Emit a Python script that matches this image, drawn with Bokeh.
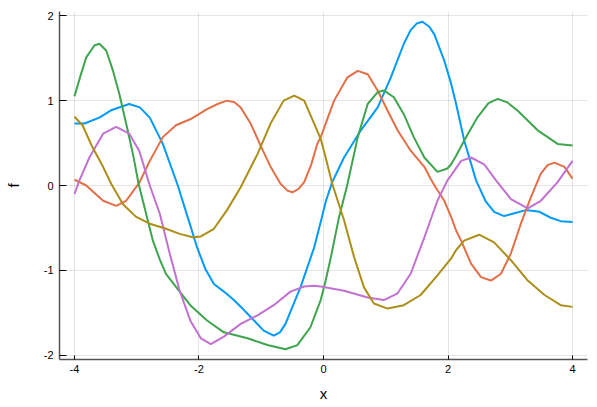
from bokeh.plotting import figure
from bokeh.models import Range1d, FixedTicker
from bokeh.embed import file_html
from bokeh.resources import INLINE

# ---- data ----
x1 = [-4.0, -3.84, -3.6, -3.4, -3.12, -2.95, -2.79, -2.58, -2.34, -2.14, -2.03, -1.9, -1.76, -1.6,
      -1.44, -1.3, -1.17, -0.96, -0.80, -0.70, -0.61, -0.5, -0.37, -0.15, -0.045, 0.04, 0.14, 0.33,
      0.60, 0.87, 1.08, 1.29, 1.40, 1.50, 1.59, 1.70, 1.78, 1.94, 2.05, 2.13, 2.26, 2.45, 2.60,
      2.74, 2.90, 3.05, 3.25, 3.47, 3.65, 3.81, 4.0]
y1 = [0.73, 0.73, 0.80, 0.89, 0.96, 0.92, 0.80, 0.49, 0.0, -0.47, -0.73, -0.98, -1.16, -1.25,
      -1.35, -1.45, -1.55, -1.71, -1.77, -1.73, -1.63, -1.43, -1.20, -0.73, -0.43, -0.18, 0.04, 0.33,
      0.65, 0.92, 1.27, 1.67, 1.83, 1.91, 1.93, 1.87, 1.78, 1.47, 1.20, 0.96, 0.53, 0.06, -0.18,
      -0.31, -0.36, -0.33, -0.29, -0.31, -0.38, -0.42, -0.43]

x2 = [-4.0, -3.81, -3.54, -3.33, -3.17, -2.96, -2.79, -2.58, -2.37, -2.14, -1.87, -1.70, -1.55,
      -1.43, -1.33, -1.17, -1.01, -0.85, -0.69, -0.58, -0.50, -0.40, -0.31, -0.20, -0.10, -0.045,
      0.035, 0.17, 0.38, 0.55, 0.71, 0.87, 1.03, 1.19, 1.40, 1.62, 1.72, 1.80, 1.94, 2.05, 2.13,
      2.21, 2.37, 2.53, 2.69, 2.85, 3.01, 3.17, 3.33, 3.49, 3.60, 3.71, 3.87, 4.0]
y2 = [0.07, 0.0, -0.18, -0.24, -0.18, 0.03, 0.29, 0.57, 0.71, 0.78, 0.90, 0.96, 1.0,
      0.98, 0.92, 0.73, 0.47, 0.22, 0.02, -0.06, -0.08, -0.04, 0.04, 0.24, 0.49, 0.57,
      0.73, 1.0, 1.27, 1.35, 1.31, 1.12, 0.88, 0.65, 0.41, 0.22, 0.08, -0.02, -0.18, -0.37, -0.53,
      -0.65, -0.92, -1.08, -1.12, -1.04, -0.80, -0.45, -0.14, 0.14, 0.24, 0.27, 0.22, 0.08]

x3 = [-4.0, -3.90, -3.81, -3.68, -3.60, -3.49, -3.38, -3.28, -3.17, -3.06, -2.97, -2.85, -2.74,
      -2.63, -2.53, -2.31, -2.14, -1.87, -1.60, -1.22, -0.90, -0.61, -0.42, -0.21, -0.045, 0.035,
      0.12, 0.25, 0.38, 0.55, 0.71, 0.87, 0.97, 1.13, 1.29, 1.45, 1.62, 1.83, 1.99, 2.05, 2.13,
      2.26, 2.47, 2.65, 2.80, 2.95, 3.12, 3.44, 3.76, 4.0]
y3 = [1.05, 1.30, 1.51, 1.65, 1.67, 1.59, 1.35, 1.08, 0.73, 0.37, 0.02, -0.33, -0.65,
      -0.87, -1.04, -1.25, -1.41, -1.59, -1.73, -1.80, -1.88, -1.93, -1.88, -1.67, -1.35, -1.12,
      -0.84, -0.37, 0.0, 0.57, 0.96, 1.10, 1.12, 1.04, 0.84, 0.57, 0.33, 0.16, 0.20, 0.25, 0.35,
      0.53, 0.80, 0.97, 1.02, 0.98, 0.88, 0.65, 0.49, 0.47]

x4 = [-4.0, -3.92, -3.76, -3.54, -3.33, -3.12, -2.96, -2.79, -2.63, -2.47, -2.31, -2.14, -1.97,
      -1.81, -1.60, -1.33, -1.06, -0.80, -0.53, -0.31, -0.15, -0.045, 0.33, 0.71, 0.97, 1.19, 1.40,
      1.62, 1.83, 1.99, 2.05, 2.21, 2.37, 2.58, 2.77, 3.01, 3.28, 3.49, 3.76, 4.0]
y4 = [-0.10, 0.06, 0.33, 0.61, 0.69, 0.61, 0.41, 0.0, -0.33, -0.80, -1.24, -1.59, -1.80,
      -1.87, -1.78, -1.63, -1.53, -1.41, -1.25, -1.19, -1.18, -1.19, -1.24, -1.32, -1.35, -1.27, -1.04,
      -0.61, -0.18, 0.06, 0.12, 0.29, 0.33, 0.25, 0.06, -0.16, -0.27, -0.18, 0.04, 0.29]

x5 = [-4.0, -3.87, -3.71, -3.54, -3.41, -3.22, -3.01, -2.79, -2.53, -2.31, -2.10, -1.97, -1.76,
      -1.55, -1.33, -1.06, -0.85, -0.64, -0.47, -0.31, -0.15, -0.045, 0.035, 0.14, 0.33, 0.49, 0.65,
      0.81, 1.03, 1.29, 1.56, 1.83, 2.05, 2.13, 2.26, 2.50, 2.74, 3.01, 3.28, 3.55, 3.81, 4.0]
y5 = [0.81, 0.71, 0.45, 0.22, 0.02, -0.22, -0.37, -0.45, -0.51, -0.57, -0.61, -0.60, -0.51,
      -0.29, -0.02, 0.37, 0.73, 1.0, 1.06, 1.0, 0.73, 0.55, 0.33, 0.02, -0.41, -0.84, -1.20,
      -1.39, -1.45, -1.41, -1.29, -1.06, -0.86, -0.76, -0.65, -0.58, -0.67, -0.88, -1.12, -1.29, -1.41, -1.43]

xticks = [-4, -2, 0, 2, 4]
yticks = [-2, -1, 0, 1, 2]
colors = ["#009AFA", "#E36F47", "#3EA44E", "#C271D2", "#AC8E18"]

p = figure(width=595, height=405, output_backend="svg", toolbar_location=None,
           x_range=Range1d(-4.24, 4.24), y_range=Range1d(-2.05, 2.05),
           min_border_left=59, min_border_right=8, min_border_top=11, min_border_bottom=46)
p.outline_line_color = None
p.background_fill_color = "white"

for xs, ys, c in zip([x1, x2, x3, x4, x5], [y1, y2, y3, y4, y5], colors):
    p.line(xs, ys, line_color=c, line_width=2)

font = "Liberation Sans"
for ax, ticks in ((p.xaxis, xticks), (p.yaxis, yticks)):
    ax.ticker = FixedTicker(ticks=ticks)
    ax.major_label_overrides = {t: str(t) for t in ticks}
    ax.minor_tick_line_color = None
    ax.major_tick_out = 0
    ax.axis_line_color = "#555555"
    ax.axis_line_width = 1.5
    ax.major_tick_line_color = "black"
    ax.major_label_text_font = font
    ax.major_label_text_font_size = "11px"
    ax.major_label_text_color = "black"
    ax.axis_label_text_font = font
    ax.axis_label_text_font_size = "15px"
    ax.axis_label_text_font_style = "normal"
    ax.axis_label_text_color = "black"

p.xaxis.major_tick_in = 4
p.yaxis.major_tick_in = 7
p.xaxis.major_label_standoff = 5
p.yaxis.major_label_standoff = 6
p.xaxis.axis_label = "x"
p.yaxis.axis_label = "f"
p.xaxis.axis_label_standoff = 9
p.yaxis.axis_label_standoff = 19

p.xgrid.ticker = FixedTicker(ticks=xticks)
p.ygrid.ticker = FixedTicker(ticks=yticks)
for g in (p.xgrid, p.ygrid):
    g.grid_line_color = "black"
    g.grid_line_alpha = 0.1
    g.grid_line_width = 1

open("out.html", "w").write(file_html(p, INLINE))
